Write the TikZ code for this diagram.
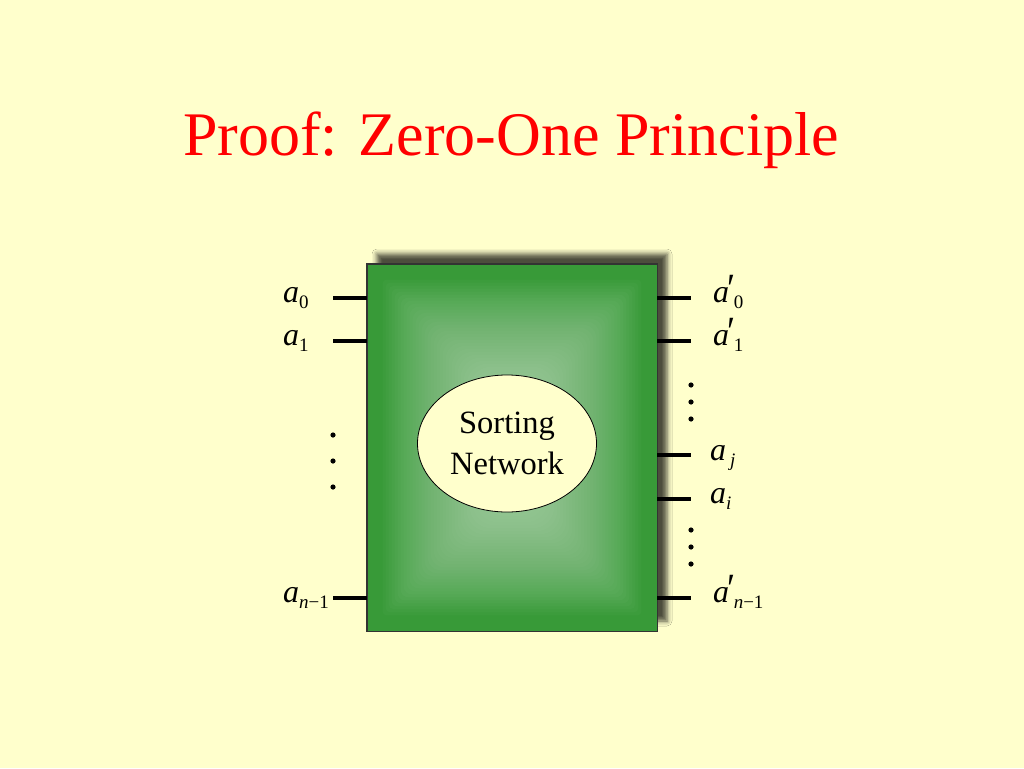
\documentclass[tikz,border=0pt]{standalone}
\usepackage{fontspec}
\setmainfont{Liberation Serif}
\usetikzlibrary{shapes.geometric,shadows.blur}
\definecolor{bg}{HTML}{FFFFCC}
\definecolor{titlered}{HTML}{FF0000}
\definecolor{netgreen}{HTML}{389A38}
\definecolor{glow}{HTML}{C4E2C2}
\newcommand\lsub[1]{\raisebox{-6pt}{\fontsize{19}{19}\selectfont #1}}
\newcommand\va[1]{\textit{a}\lsub{#1}}
\newcommand\vp[1]{\textit{a}\kern-2pt\raisebox{0pt}{\scalebox{1.15}[1.3]{′}}\kern-1.5pt\lsub{#1}}
\begin{document}
\begin{tikzpicture}[x=1pt,y=-1pt,
  pin/.style={line width=4pt},
  dotmark/.style={fill=black,draw=none},
  lab/.style={anchor=base west,inner sep=0pt,font=\fontsize{32}{32}\selectfont},
]
\useasboundingbox (0,0) rectangle (1024,768);
\fill[bg] (0,0) rectangle (1024,768);
\node[titlered,anchor=base,inner sep=0pt,font=\fontsize{62}{62}\selectfont] (title) at (511,155) {Proof: Zero-One Principle};
% box
\node[draw=black!80,line width=0.6pt,fill=netgreen,minimum width=290pt,minimum height=367pt,inner sep=0pt,
  blur shadow={shadow xshift=10pt,shadow yshift=10pt,shadow blur radius=5pt,shadow opacity=70}] (box) at (512,447.5) {};
\begin{scope}
\clip (box.south west) rectangle (box.north east);
\foreach \i in {0,...,40}{
  \pgfmathsetmacro\ins{16+3*\i}
  \pgfmathsetmacro\rc{4+0.6*\i}
  \fill[glow,opacity=0.036,rounded corners=\rc pt] ([shift={(\ins pt,\ins pt)}]box.south west) rectangle ([shift={(-\ins pt,-\ins pt)}]box.north east);
}
\end{scope}
\draw[black!80,line width=0.6pt] (box.south west) rectangle (box.north east);
% ellipse
\node[ellipse,draw=black,line width=0.8pt,fill=bg,minimum width=179pt,minimum height=137pt,inner sep=0pt,
  align=center,font=\fontsize{32.5}{41}\selectfont] (net) at (507,443.5) {Sorting\\Network};
% left pins
\coordinate (l0) at (333,298);
\coordinate (l1) at (333,341);
\coordinate (ln) at (333,598);
\foreach \c in {l0,l1,ln}{\draw[pin] (\c) -- (\c -| box.west);}
% right pins
\coordinate (r0) at (691,298);
\coordinate (r1) at (691,341);
\coordinate (rj) at (691,455);
\coordinate (ri) at (691,499);
\coordinate (rn) at (691,598);
\foreach \c in {r0,r1,rj,ri,rn}{\draw[pin] (\c -| box.east) -- (\c);}
% dots
\foreach \y [count=\k] in {435,461,487}{\fill[dotmark] (333,\y) circle (2.6pt) coordinate (ld\k);}
\foreach \y [count=\k] in {385,402,419}{\fill[dotmark] (691,\y) circle (2.6pt) coordinate (rda\k);}
\foreach \y [count=\k] in {530,547,564}{\fill[dotmark] (691,\y) circle (2.6pt) coordinate (rdb\k);}
% labels
\node[lab] (t0) at (283,302) {\va{0}};
\node[lab] (t1) at (283,345) {\va{1}};
\node[lab] (tn) at (283,602) {\va{\textit{n}−1}};
\node[lab] (u0) at (713,302) {\vp{0}};
\node[lab] (u1) at (713,345) {\vp{1}};
\node[lab] (uj) at (710,460) {\textit{a}\kern4pt\lsub{\textit{j}}};
\node[lab] (ui) at (710,503) {\textit{a}\lsub{\textit{i}}};
\node[lab] (un) at (713,602) {\vp{\textit{n}−1}};
\end{tikzpicture}
\end{document}
